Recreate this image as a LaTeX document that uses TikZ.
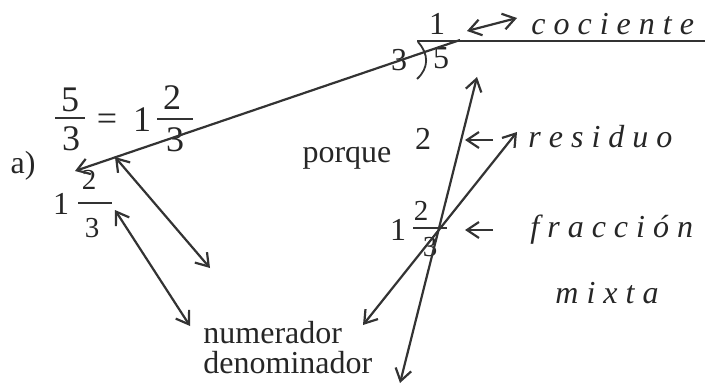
\documentclass[tikz,border=0pt]{standalone}
\usepackage{fontspec}
\setmainfont{Liberation Serif}
\usetikzlibrary{arrows.meta, positioning}

\begin{document}
\begin{tikzpicture}[
  x=0.5pt, y=-0.5pt,
  txt/.style={inner sep=0pt, text=black!85, font=\fontsize{16}{18}\selectfont},
  itx/.style={txt, font=\fontsize{16}{18}\selectfont\itshape},
  bigdig/.style={inner sep=0pt, text=black!85, font=\fontsize{18}{20}\selectfont},
  dig/.style={inner sep=0pt, text=black!85, font=\fontsize{16}{18}\selectfont},
  smalldig/.style={inner sep=0pt, text=black!85, font=\fontsize{14.5}{16}\selectfont},
  rule/.style={line width=0.9pt, draw=black!80},
  arrow/.style={-{Straight Barb[length=6pt, width=8pt]}, line width=1.1pt, draw=black!80},
  dblarrow/.style={arrow, {Straight Barb[length=6pt, width=8pt]}-{Straight Barb[length=6pt, width=8pt]}}
]
\useasboundingbox (0,0) rectangle (705,385);

% left: 5/3 = 1 2/3
\node[txt] (lbl) at (23,166) {a)};
\node[bigdig] (fnum) at (70,100) {5};
\node[bigdig] (fden) at (71,139) {3};
\node[bigdig] (eq) at (107,122) {=};
\node[bigdig] (mwhole) at (142,120) {1};
\node[bigdig] (mnum) at (172,98) {2};
\node[bigdig] (mden) at (175,140) {3};
\draw[rule] (55,118) -- (85,118);
\draw[rule] (157,119) -- (193,119);

\node[dig] (swhole) at (61,204) {1};
\node[smalldig] (snum) at (89,180) {2};
\node[smalldig] (sden) at (92,228) {3};
\draw[rule] (78,203) -- (112,203);

% division 3)5
\node[dig] (divisor) at (399,60) {3};
\node[dig] (dividend) at (441,58) {5};
\node[dig] (quot) at (437,24) {1};
\draw[rule] (417,41) -- (705,41);
\draw[rule] (418,42) .. controls (429,54) and (429,68) .. (417,79);

% right: remainder and mixed number
\node[dig] (rem) at (423,139) {2};
\node[dig] (rwhole) at (398,230) {1};
\node[smalldig] (rnum) at (421,211) {2};
\node[smalldig] (rden) at (430,247) {3};
\draw[rule] (413,228) -- (447,228);

\node[txt] (porque) at (347,158) {porque};
\node[txt, anchor=west] (numer) at (203,333) {numerador};
\node[txt, anchor=west] (denom) at (203,363) {denominador};
\node[itx, anchor=base west] (coc) at (531,35) {c o c i e n t e};
\node[itx, anchor=base west] (res) at (528,147) {r e s i d u o};
\node[itx, anchor=base west] (frac) at (530,237) {f r a c c i ó n};
\node[itx, anchor=base west] (mixta) at (555,303) {m i x t a};

% connector ends
\coordinate (lineR) at (460,40);
\coordinate (lineL) at (75,171);
\coordinate (aTop) at (115,157);
\coordinate (aBot) at (210,268);
\coordinate (bTop) at (115,210);
\coordinate (bBot) at (190,326);
\coordinate (qL) at (467,31);
\coordinate (qR) at (517,18);
\coordinate (sTop) at (477,77);
\coordinate (sBot) at (400,383);
\coordinate (rTop) at (517,132);
\coordinate (rBot) at (363,325);
\coordinate (remR) at (493,140);
\coordinate (remL) at (465,140);
\coordinate (frR) at (493,230);
\coordinate (frL) at (465,230);

\draw[arrow] (lineR) -- (lineL);
\draw[dblarrow] (aTop) -- (aBot);
\draw[dblarrow] (bTop) -- (bBot);
\draw[dblarrow] (qL) -- (qR);
\draw[dblarrow] (sTop) -- (sBot);
\draw[dblarrow] (rTop) -- (rBot);
\draw[arrow] (remR) -- (remL);
\draw[arrow] (frR) -- (frL);

\end{tikzpicture}
\end{document}
